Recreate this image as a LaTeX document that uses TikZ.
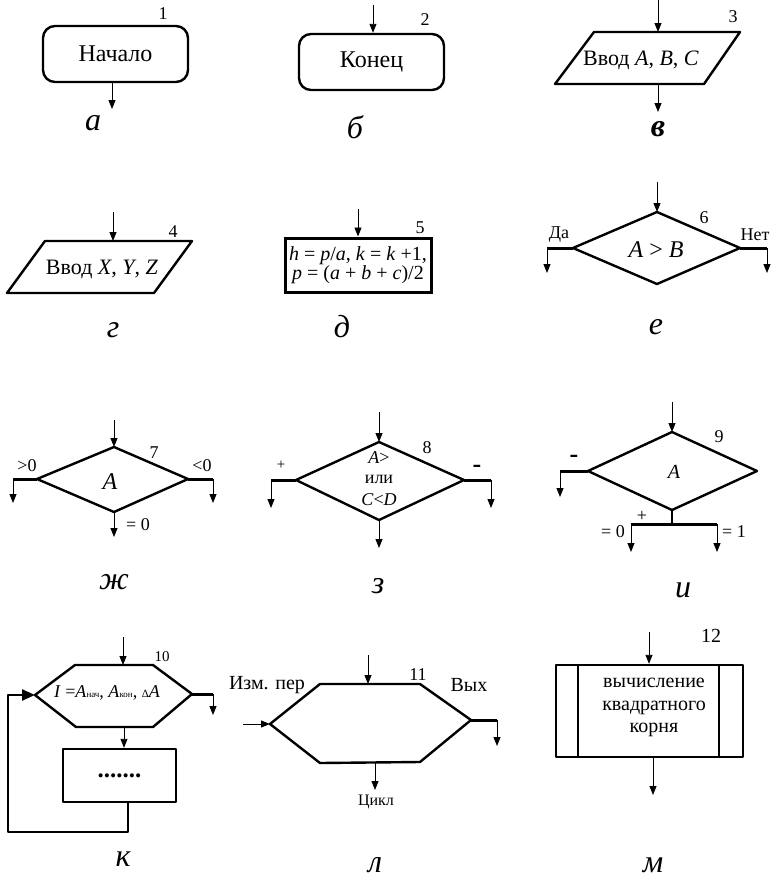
\documentclass[tikz,border=0pt]{standalone}
\usepackage{fontspec}
\setmainfont{Liberation Serif}
\usetikzlibrary{arrows.meta}
\begin{document}
\begin{tikzpicture}[x=1pt,y=-1pt,
 shp/.style={line width=2.4pt,line join=round},
 thk/.style={line width=3pt},
 arr/.style={line width=0.9pt,-{Triangle[length=9pt,width=7pt]}},
 txt/.style={font=\fontsize{22}{24}\selectfont,inner sep=0pt},
 num/.style={font=\fontsize{18}{20}\selectfont,inner sep=0pt},
 sm/.style={font=\fontsize{18}{20}\selectfont,inner sep=0pt},
 lbl/.style={font=\fontsize{32}{36}\selectfont\itshape,inner sep=0pt},
 rbox/.style={draw,shp,rounded corners=12pt,minimum width=145pt,minimum height=56pt,
   inner sep=0pt,font=\fontsize{24}{26}\selectfont}]
\useasboundingbox (0,0) rectangle (776,881);

% ---------- а ----------
\node[rbox] (start) at (115.5,54) {Начало};
\coordinate (startout) at (112,109);
\draw[arr] (startout |- start.south) -- (startout);
\node[num] (n1) at (163,14) {1};
\node[lbl] (la) at (93,123) {а};

% ---------- б ----------
\node[rbox] (end) at (371.5,62) {Конец};
\coordinate (endin) at (373,5);
\draw[arr] (endin) -- (endin |- end.north);
\node[num] (n2) at (425,20) {2};
\node[lbl] (lb) at (355,127) {б};

% ---------- в ----------
\coordinate (p3a) at (594,32); \coordinate (p3b) at (740,32);
\coordinate (p3c) at (704,84); \coordinate (p3d) at (555,84);
\draw[shp] (p3a)--(p3b)--(p3c)--(p3d)--cycle;
\node[txt] (t3) at (641,60) {Ввод \textit{A}, \textit{B}, \textit{C}};
\coordinate (p3top) at (658,32); \coordinate (p3bot) at (658,84);
\coordinate (p3in) at (658,0); \coordinate (p3out) at (658,112);
\draw[arr] (p3in)--(p3top);
\draw[arr] (p3bot)--(p3out);
\node[num] (n3) at (733,17) {3};
\node[lbl,font=\fontsize{32}{36}\selectfont\bfseries\itshape] (lv) at (658,129) {в};

% ---------- г ----------
\coordinate (p4a) at (45,241); \coordinate (p4b) at (192,241);
\coordinate (p4c) at (154,293); \coordinate (p4d) at (7,293);
\draw[shp] (p4a)--(p4b)--(p4c)--(p4d)--cycle;
\node[txt] (t4) at (102,269) {Ввод \textit{X}, \textit{Y}, \textit{Z}};
\coordinate (p4in) at (113,212); \coordinate (p4top) at (113,241);
\draw[arr] (p4in)--(p4top);
\node[num] (n4) at (173,232) {4};
\node[lbl] (lg) at (113,330) {г};

% ---------- д ----------
\node[draw,thk,minimum width=146pt,minimum height=54pt,inner sep=0pt,align=center,
      font=\fontsize{20}{19}\selectfont] (b5) at (358,265)
  {\textit{h} = \textit{p}/\textit{a}, \textit{k} = \textit{k} +1,\\ \textit{p} = (\textit{a} + \textit{b} + \textit{c})/2};
\coordinate (b5in) at (358,209);
\draw[arr] (b5in) -- (b5in |- b5.north);
\node[num] (n5) at (420,228) {5};
\node[lbl] (ld) at (342,327) {д};

% ---------- е ----------
\coordinate (d6t) at (657,212); \coordinate (d6r) at (740,248);
\coordinate (d6b) at (657,284); \coordinate (d6l) at (573,248);
\draw[shp] (d6t)--(d6r)--(d6b)--(d6l)--cycle;
\node[font=\fontsize{24}{26}\selectfont,inner sep=0pt] (t6) at (656,250) {\textit{A} > \textit{B}};
\coordinate (d6in) at (657,182);
\draw[arr] (d6in)--(d6t);
\coordinate (d6lc) at (547,248); \coordinate (d6lo) at (547,273);
\coordinate (d6rc) at (767,248); \coordinate (d6ro) at (767,273);
\draw[thk] (d6l)--(d6lc); \draw[arr] (d6lc)--(d6lo);
\draw[thk] (d6r)--(d6rc); \draw[arr] (d6rc)--(d6ro);
\node[sm] (yes6) at (559,235) {Да};
\node[sm] (no6) at (755,235) {Нет};
\node[num] (n6) at (704,218) {6};
\node[lbl] (le) at (656,327) {е};

% ---------- ж ----------
\coordinate (d7t) at (114,447); \coordinate (d7r) at (188,479);
\coordinate (d7b) at (114,512); \coordinate (d7l) at (37,479);
\draw[shp] (d7t)--(d7r)--(d7b)--(d7l)--cycle;
\node[font=\fontsize{24}{26}\selectfont\itshape,inner sep=0pt] (t7) at (110,482) {A};
\coordinate (d7in) at (114,420);
\draw[arr] (d7in)--(d7t);
\coordinate (d7lc) at (13,479); \coordinate (d7lo) at (13,503);
\coordinate (d7rc) at (213,479); \coordinate (d7ro) at (213,503);
\coordinate (d7bo) at (114,537);
\draw[thk] (d7l)--(d7lc); \draw[arr] (d7lc)--(d7lo);
\draw[thk] (d7r)--(d7rc); \draw[arr] (d7rc)--(d7ro);
\draw[arr] (d7b)--(d7bo);
\node[sm] (g7) at (27,466) {>0};
\node[sm] (l7) at (202,466) {<0};
\node[sm] (e7) at (138,525) {= 0};
\node[num] (n7) at (154,453) {7};
\node[lbl] (lzh) at (114,582) {ж};

% ---------- з ----------
\coordinate (d8t) at (379,442); \coordinate (d8r) at (464,480);
\coordinate (d8b) at (379,520); \coordinate (d8l) at (296,480);
\draw[shp] (d8t)--(d8r)--(d8b)--(d8l)--cycle;
\node[sm] (t8a) at (379,458) {\textit{A}>};
\node[sm] (t8b) at (379,479) {или};
\node[sm] (t8c) at (379,500) {\textit{C}<\textit{D}};
\coordinate (d8in) at (379,412);
\draw[arr] (d8in)--(d8t);
\coordinate (d8lc) at (271,480); \coordinate (d8lo) at (271,508);
\coordinate (d8rc) at (491,480); \coordinate (d8ro) at (491,508);
\coordinate (d8bo) at (379,548);
\draw[thk] (d8l)--(d8lc); \draw[arr] (d8lc)--(d8lo);
\draw[thk] (d8r)--(d8rc); \draw[arr] (d8rc)--(d8ro);
\draw[arr] (d8b)--(d8bo);
\node[font=\fontsize{15}{16}\selectfont,inner sep=0pt] (pl8) at (281,465) {+};
\node[font=\fontsize{26}{28}\selectfont\bfseries,inner sep=0pt] (mi8) at (477,469) {-};
\node[num] (n8) at (427,448) {8};
\node[lbl] (lz) at (378,586) {з};

% ---------- и ----------
\coordinate (d9t) at (672,432); \coordinate (d9r) at (757,471);
\coordinate (d9b) at (672,510); \coordinate (d9l) at (588,471);
\draw[shp] (d9t)--(d9r)--(d9b)--(d9l)--cycle;
\node[font=\fontsize{20}{22}\selectfont\itshape,inner sep=0pt] (t9) at (674,472) {A};
\coordinate (d9in) at (672,402);
\draw[arr] (d9in)--(d9t);
\coordinate (d9lc) at (560,471); \coordinate (d9lo) at (560,497);
\draw[thk] (d9l)--(d9lc); \draw[arr] (d9lc)--(d9lo);
\coordinate (d9j) at (672,524);
\coordinate (d9a) at (631,524); \coordinate (d9ao) at (631,552);
\coordinate (d9c) at (717,524); \coordinate (d9co) at (717,552);
\draw[line width=1.6pt] (d9b)--(d9j);
\draw[thk] (d9a)--(d9c);
\draw[arr] (d9a)--(d9ao);
\draw[arr] (d9c)--(d9co);
\node[font=\fontsize{26}{28}\selectfont\bfseries,inner sep=0pt] (mi9) at (574,459) {-};
\node[sm] (pl9) at (642,516) {+};
\node[sm] (e9a) at (613,532) {= 0};
\node[sm] (e9b) at (734,532) {= 1};
\node[num] (n9) at (719,437) {9};
\node[lbl] (li) at (683,590) {и};

% ---------- к ----------
\coordinate (h10a) at (75,665); \coordinate (h10b) at (153,665);
\coordinate (h10c) at (192,694); \coordinate (h10d) at (153,727);
\coordinate (h10e) at (76,727); \coordinate (h10f) at (35,695);
\draw[shp] (h10a)--(h10b)--(h10c)--(h10d)--(h10e)--(h10f)--cycle;
\node[font=\fontsize{18}{20}\selectfont,inner sep=0pt] (t10) at (107,693)
  {\textit{I} =\textit{A}{\fontsize{9}{10}\selectfont нач}, \textit{A}{\fontsize{9}{10}\selectfont кон}, {\fontsize{11}{12}\selectfont Δ}\textit{A}};
\coordinate (h10in) at (123,637); \coordinate (h10top) at (123,665);
\draw[arr] (h10in)--(h10top);
\coordinate (h10rc) at (213,694); \coordinate (h10ro) at (213,715);
\draw[thk] (h10c)--(h10rc); \draw[arr] (h10rc)--(h10ro);
\node[draw,shp,minimum width=113pt,minimum height=53pt,inner sep=0pt,
      font=\fontsize{25}{26}\selectfont\bfseries] (b10) at (119.5,775.5) {.......};
\coordinate (h10bot) at (124,727);
\draw[arr] (h10bot) -- (h10bot |- b10.north);
\coordinate (lp1) at (128,832); \coordinate (lp2) at (8,832); \coordinate (lp3) at (8,695);
\draw[shp,-{Triangle[length=13pt,width=11pt]}] (lp1 |- b10.south) -- (lp1) -- (lp2) -- (lp3) -- (h10f);
\node[font=\fontsize{15}{16}\selectfont,inner sep=0pt] (n10) at (162,657) {10};
\node[lbl] (lk) at (123,859) {к};

% ---------- л ----------
\coordinate (h11a) at (320,684); \coordinate (h11b) at (420,684);
\coordinate (h11c) at (471,720); \coordinate (h11d) at (420,762);
\coordinate (h11e) at (320,763); \coordinate (h11f) at (270,724);
\draw[shp] (h11a)--(h11b)--(h11c)--(h11d)--(h11e)--(h11f)--cycle;
\coordinate (h11in) at (368,655); \coordinate (h11top) at (368,684);
\draw[arr] (h11in)--(h11top);
\coordinate (h11li) at (243,724);
\draw[arr] (h11li)--(h11f);
\coordinate (h11rc) at (497,720); \coordinate (h11ro) at (497,746);
\draw[thk] (h11c)--(h11rc); \draw[arr] (h11rc)--(h11ro);
\coordinate (h11bot) at (375,763); \coordinate (h11bo) at (375,790);
\draw[arr] (h11bot)--(h11bo);
\node[font=\fontsize{20}{22}\selectfont,inner sep=0pt] (t11a) at (267,685) {Изм. пер};
\node[font=\fontsize{20}{22}\selectfont,inner sep=0pt] (t11b) at (469,685) {Вых};
\node[font=\fontsize{16}{18}\selectfont,inner sep=0pt] (t11c) at (376,802) {Цикл};
\node[num] (n11) at (418,675) {11};
\node[lbl] (ll) at (375,865) {л};

% ---------- м ----------
\node[draw,shp,minimum width=187pt,minimum height=92pt,inner sep=0pt] (b12) at (649.5,711) {};
\draw[shp] (578,665) -- (578,757);
\draw[shp] (719,665) -- (719,757);
\node[font=\fontsize{20}{22.5}\selectfont,align=center,inner sep=0pt] (t12) at (654,707.5)
  {вычисление\\квадратного\\корня};
\coordinate (b12in) at (649,632); \coordinate (b12out) at (653,795);
\draw[arr] (b12in) -- (b12in |- b12.north);
\draw[arr] (b12out |- b12.south) -- (b12out);
\node[font=\fontsize{20}{22}\selectfont,inner sep=0pt] (n12) at (711,636) {12};
\node[lbl] (lm) at (653,865) {м};
\end{tikzpicture}
\end{document}
